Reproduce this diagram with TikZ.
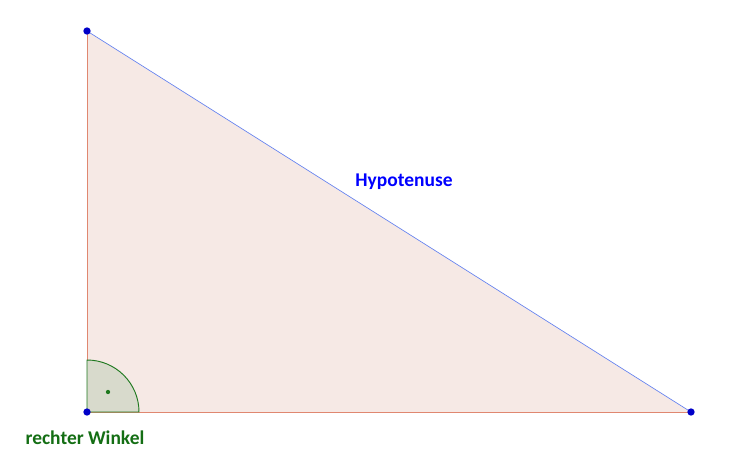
\documentclass[tikz,border=0pt]{standalone}
\usepackage{fontspec}
\setmainfont{Carlito}
\usepackage{xcolor}
\usetikzlibrary{calc,positioning}
\definecolor{fillpink}{RGB}{246,233,229}
\definecolor{sidered}{RGB}{224,135,112}
\definecolor{hypblue}{RGB}{100,130,240}
\definecolor{ptblue}{RGB}{0,0,200}
\definecolor{anglegreen}{RGB}{30,120,30}
\definecolor{anglefill}{RGB}{216,218,204}
\definecolor{labelgreen}{RGB}{20,110,20}

\tikzset{
    pt/.style={circle, fill=ptblue, inner sep=0pt, minimum size=5.5pt},
    lbl/.style={font=\fontsize{14.6}{16}\selectfont\bfseries}
}

\begin{document}
\begin{tikzpicture}[x=0.75pt, y=-0.75pt]
    \useasboundingbox (0,0) rectangle (750,464);
    \coordinate (B) at (87,31);
    \coordinate (C) at (87,412);
    \coordinate (A) at (691,412);

    \fill [fillpink] (B) -- (C) -- (A) -- cycle;
    \draw [sidered, line width=0.6pt] (B) -- (C);
    \draw [sidered, line width=0.6pt] (C) -- (A);
    \draw [hypblue, line width=0.5pt] (B) -- (A);

    % right angle
    \draw [anglegreen, fill=anglefill, line width=0.7pt]
        (C) -- ++(52,0) arc[start angle=0, end angle=-90, radius=52] -- cycle;
    \fill [anglegreen] ($(C)+(21,-20)$) circle (1.6pt);

    \node [pt] (b) at (B) {};
    \node [pt] (c) at (C) {};
    \node [pt] (a) at (A) {};

    \node [lbl, text=blue] (hyp) at (404,182) {Hypotenuse};
    \node [lbl, text=labelgreen] (winkel) at (85,438) {rechter Winkel};
\end{tikzpicture}
\end{document}
